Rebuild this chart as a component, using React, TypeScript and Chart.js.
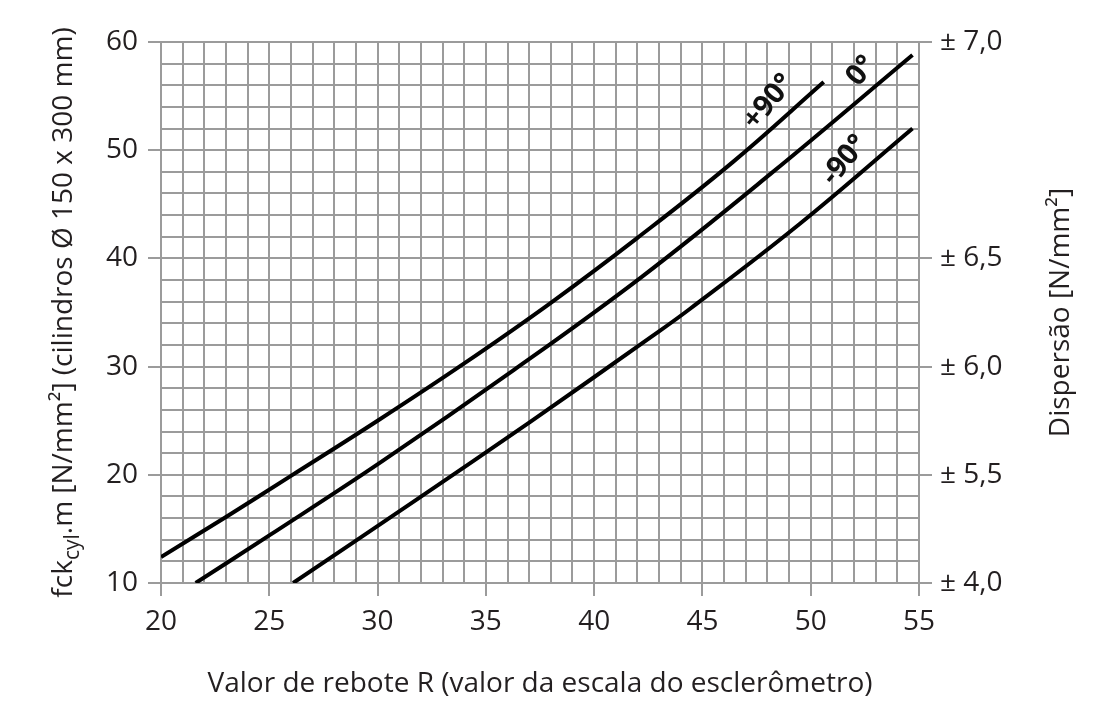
import { useEffect, useRef } from 'react';
import { Chart, registerables } from 'chart.js';

Chart.register(...registerables);

// ---- axis ranges & tick labels ----
const xMin = 20;
const xMax = 55;
const yMin = 10;
const yMax = 60;
const xTickLabels = [20, 25, 30, 35, 40, 45, 50, 55];
const yTickLabels = [10, 20, 30, 40, 50, 60];
const rightTickValues = [10, 20, 30, 40, 60];
const rightTickLabels = ['± 4,0', '± 5,5', '± 6,0', '± 6,5', '± 7,0'];

// ---- series (R = rebound value, F = fck) ----
const plus90R = [20, 23, 26, 30, 34, 38, 42, 46.4, 50.6];
const plus90F = [12.4, 16.1, 19.9, 25.0, 30.3, 35.9, 41.9, 48.9, 56.3];
const zeroR = [21.6, 25, 30.1, 36.3, 42.2, 48.2, 54.7];
const zeroF = [10.0, 14.4, 21.1, 29.7, 38.3, 47.9, 58.8];
const minus90R = [26.1, 31.8, 37.05, 42.6, 44.4, 49.5, 54.7];
const minus90F = [10.0, 17.7, 24.9, 32.7, 35.3, 43.2, 52.0];

// ---- curve labels anchored in data coordinates ----
const curveLabels = ['+90°', '0°', '-90°'];
const curveLabelR = [48.07, 52.34, 51.57];
const curveLabelF = [54.46, 57.32, 49.08];

const xTitle = 'Valor de rebote R (valor da escala do esclerômetro)';
const rightTitle = 'Dispersão [N/mm²]';
const leftTitleParts = ['fck', 'cyl', '.m [N/mm²] (cilindros Ø 150 x 300 mm)'];

const FONT = "'Open Sans', 'Noto Sans', sans-serif";
const TEXT = '#231f20';
const GRID = '#9b9b9b';
const FS = 28;

const toPts = (xs: number[], ys: number[]) => xs.map((x, i) => ({ x, y: ys[i] }));

const overlayPlugin = {
  id: 'overlayText',
  afterDraw(chart: any) {
    const { ctx, chartArea, scales } = chart;
    const cy = (chartArea.top + chartArea.bottom) / 2;
    ctx.save();
    ctx.fillStyle = TEXT;
    ctx.textBaseline = 'alphabetic';

    // left title with subscript
    const normal = `${FS}px ${FONT}`;
    const small = `${Math.round(FS * 0.74)}px ${FONT}`;
    const segs = [
      { t: leftTitleParts[0], f: normal, dy: 0 },
      { t: leftTitleParts[1], f: small, dy: FS * 0.26 },
      { t: leftTitleParts[2], f: normal, dy: 0 },
    ];
    let total = 0;
    const widths = segs.map((s) => {
      ctx.font = s.f;
      const w = ctx.measureText(s.t).width;
      total += w;
      return w;
    });
    ctx.save();
    ctx.translate(72, cy);
    ctx.rotate(-Math.PI / 2);
    let x = -total / 2;
    segs.forEach((s, i) => {
      ctx.font = s.f;
      ctx.textAlign = 'left';
      ctx.fillText(s.t, x, s.dy);
      x += widths[i];
    });
    ctx.restore();

    // right title
    ctx.save();
    ctx.font = normal;
    ctx.textAlign = 'center';
    ctx.translate(1069, cy);
    ctx.rotate(-Math.PI / 2);
    ctx.fillText(rightTitle, 0, 0);
    ctx.restore();

    // curve labels
    ctx.font = `bold 29px ${FONT}`;
    ctx.fillStyle = '#111';
    ctx.textAlign = 'center';
    ctx.textBaseline = 'middle';
    curveLabels.forEach((lbl, i) => {
      const px = scales.x.getPixelForValue(curveLabelR[i]);
      const py = scales.y.getPixelForValue(curveLabelF[i]);
      ctx.save();
      ctx.translate(px, py);
      ctx.rotate((-50 * Math.PI) / 180);
      ctx.fillText(lbl, 0, 0);
      ctx.restore();
    });
    ctx.restore();
  },
};

export default function App() {
  const ref = useRef<HTMLCanvasElement | null>(null);

  useEffect(() => {
    if (!ref.current) return;
    const lineStyle = {
      borderColor: '#000',
      borderWidth: 4,
      pointRadius: 0,
      fill: false,
      tension: 0.4,
      borderCapStyle: 'butt' as const,
    };
    const chart = new Chart(ref.current, {
      type: 'line',
      data: {
        datasets: [
          { label: curveLabels[0], data: toPts(plus90R, plus90F), ...lineStyle },
          { label: curveLabels[1], data: toPts(zeroR, zeroF), ...lineStyle },
          { label: curveLabels[2], data: toPts(minus90R, minus90F), ...lineStyle },
        ],
      },
      options: {
        animation: false,
        responsive: true,
        maintainAspectRatio: false,
        layout: { padding: { top: 42, left: 0, right: 0, bottom: 0 } },
        plugins: { legend: { display: false }, tooltip: { enabled: false } },
        scales: {
          x: {
            type: 'linear',
            position: 'bottom',
            min: xMin,
            max: xMax,
            ticks: {
              stepSize: 1,
              autoSkip: false,
              maxRotation: 0,
              padding: 9,
              color: TEXT,
              font: { family: FONT, size: FS },
              callback: (v: any) => (xTickLabels.includes(Number(v)) ? String(v) : ''),
            },
            grid: {
              color: GRID,
              lineWidth: 2,
              tickLength: 13,
              tickColor: (c: any) => (xTickLabels.includes(c.tick?.value) ? GRID : 'rgba(0,0,0,0)'),
            },
            border: { display: true, color: GRID, width: 2 },
            title: {
              display: true,
              text: xTitle,
              color: TEXT,
              font: { family: FONT, size: FS },
              padding: { top: 0, bottom: 9 },
            },
            afterFit: (s: any) => {
              s.height = 127;
            },
          },
          y: {
            type: 'linear',
            position: 'left',
            min: yMin,
            max: yMax,
            ticks: {
              stepSize: 2,
              autoSkip: false,
              padding: 10,
              color: TEXT,
              font: { family: FONT, size: FS },
              callback: (v: any) => (yTickLabels.includes(Number(v)) ? String(v) : ''),
            },
            grid: {
              color: GRID,
              lineWidth: 2,
              tickLength: 13,
              tickColor: (c: any) => (yTickLabels.includes(c.tick?.value) ? GRID : 'rgba(0,0,0,0)'),
            },
            border: { display: true, color: GRID, width: 2 },
            afterFit: (s: any) => {
              s.width = 161;
            },
          },
          y2: {
            type: 'linear',
            position: 'right',
            min: yMin,
            max: yMax,
            afterBuildTicks: (s: any) => {
              s.ticks = rightTickValues.map((value) => ({ value }));
            },
            ticks: {
              autoSkip: false,
              padding: 8,
              color: TEXT,
              font: { family: FONT, size: FS },
              callback: (v: any) => rightTickLabels[rightTickValues.indexOf(Number(v))],
            },
            grid: {
              drawOnChartArea: false,
              color: GRID,
              lineWidth: 2,
              tickLength: 13,
            },
            border: { display: true, color: GRID, width: 2 },
            afterFit: (s: any) => {
              s.width = 174;
            },
          },
        },
      },
      plugins: [overlayPlugin],
    });
    return () => chart.destroy();
  }, []);

  return (
    <div style={{ position: 'fixed', left: 0, top: 0, width: 1093, height: 710, background: '#fff' }}>
      <canvas ref={ref} />
    </div>
  );
}
